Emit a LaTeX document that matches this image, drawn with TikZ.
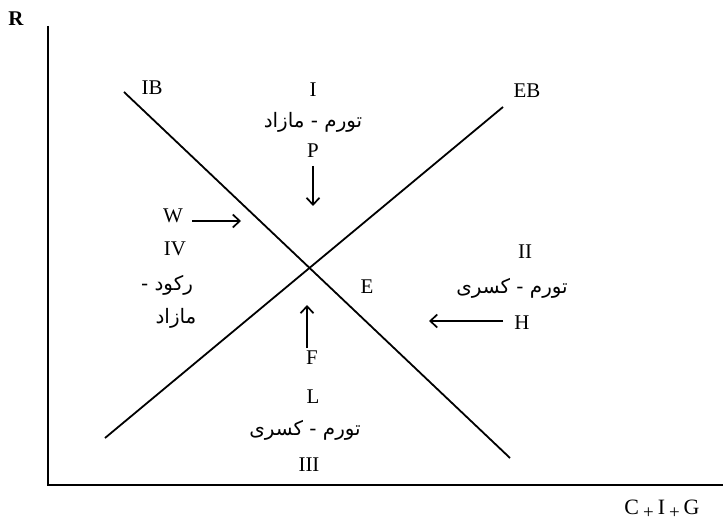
\documentclass[tikz,border=0pt]{standalone}
\usepackage{fontspec}
\setmainfont{Liberation Serif}
\newfontfamily\fafont[Script=Arabic]{DejaVu Sans}
\TeXXeTstate=1
\usetikzlibrary{arrows.meta}
\begin{document}
\begin{tikzpicture}[x=1bp,y=-1bp,
  lbl/.style={font=\fontsize{21}{24}\selectfont, inner sep=0pt},
  fa/.style={font=\fontsize{20}{24}\selectfont\fafont, inner sep=0pt, align=center},
  curve/.style={line width=1.8bp, black},
  axis/.style={line width=1.6bp, black},
  arr/.style={line width=1.7bp, -{Straight Barb[length=7bp,width=13bp,line width=1.7bp]}}]
\useasboundingbox (0,0) rectangle (723,524);
% axes
\coordinate (ytop) at (48,26);
\coordinate (orig) at (48,485);
\coordinate (xend) at (723,485);
\draw[axis] (ytop) -- (orig) -- (xend);
\node[lbl,font=\fontsize{21}{24}\selectfont\bfseries] (R) at (16,19) {R};
\node[lbl,font=\fontsize{22}{24}\selectfont] (CIG) at (662,509) {C\hspace{4bp}\raisebox{-4bp}{\fontsize{19}{20}\selectfont +}\hspace{4bp}I\hspace{4bp}\raisebox{-4bp}{\fontsize{19}{20}\selectfont +}\hspace{4bp}G};
% curves
\coordinate (ib1) at (124,92);
\coordinate (ib2) at (510,458);
\coordinate (eb1) at (105,438);
\coordinate (eb2) at (503,107);
\draw[curve] (ib1) -- (ib2);
\draw[curve] (eb1) -- (eb2);
\node[lbl] (IB) at (152,88) {IB};
\node[lbl] (EB) at (527,91) {EB};
% region I
\node[lbl] (I) at (313,90) {I};
\node[fa] (t1) at (313,122) {\beginR تورم - مازاد\endR};
\node[lbl] (P) at (313,151) {P};
\coordinate (pa) at (313,166);
\coordinate (pb) at (313,206);
\draw[arr] (pa) -- (pb);
% region IV
\node[lbl] (W) at (173,216) {W};
\coordinate (wa) at (192,221);
\coordinate (wb) at (241,221);
\draw[arr] (wa) -- (wb);
\node[lbl] (IV) at (175,249) {IV};
\node[fa] (t4a) at (167,285) {\beginR رکود -\endR};
\node[fa] (t4b) at (176,318) {\beginR مازاد\endR};
% E
\node[lbl] (E) at (367,287) {E};
% region II
\node[lbl] (II) at (525,252) {II};
\node[fa] (t2) at (512,288) {\beginR تورم - کسری\endR};
\node[lbl] (H) at (522,323) {H};
\coordinate (ha) at (503,321);
\coordinate (hb) at (429,321);
\draw[arr] (ha) -- (hb);
% region III
\coordinate (fa1) at (307,348);
\coordinate (fb1) at (307,305);
\draw[arr] (fa1) -- (fb1);
\node[lbl] (F) at (312,358) {F};
\node[lbl] (L) at (313,397) {L};
\node[fa] (t3) at (305,430) {\beginR تورم - کسری\endR};
\node[lbl] (III) at (309,465) {III};
\end{tikzpicture}
\end{document}
